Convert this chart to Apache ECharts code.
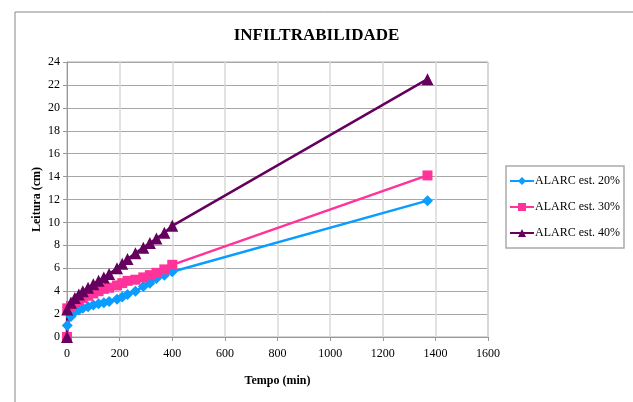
<!DOCTYPE html>
<html>
<head>
<meta charset="utf-8">
<script src="https://cdn.jsdelivr.net/npm/echarts@6/dist/echarts.min.js"></script>
<style>
  html, body { margin: 0; padding: 0; background: #fff; }
  #chart { width: 633px; height: 402px; }
</style>
</head>
<body>
<div id="chart"></div>
<script>
const tempo = [0, 1, 15, 30, 45, 60, 80, 100, 120, 140, 160, 190, 210, 230, 260, 290, 315, 340, 370, 400, 1370];

const est20 = [0, 1.0, 1.8, 2.2, 2.35, 2.5, 2.65, 2.8, 2.9, 3.0, 3.1, 3.3, 3.5, 3.7, 4.0, 4.4, 4.7, 5.1, 5.4, 5.7, 11.9];
const est30 = [0, 2.5, 2.7, 3.0, 3.2, 3.4, 3.6, 3.8, 4.0, 4.2, 4.3, 4.5, 4.7, 4.9, 5.0, 5.2, 5.4, 5.6, 5.9, 6.3, 14.1];
const est40 = [0, 2.4, 3.0, 3.4, 3.7, 4.0, 4.3, 4.6, 4.9, 5.2, 5.5, 6.0, 6.4, 6.8, 7.3, 7.8, 8.2, 8.6, 9.1, 9.7, 22.5];

const seriesNames = ['ALARC est. 20%', 'ALARC est. 30%', 'ALARC est. 40%'];

const chart = echarts.init(document.getElementById('chart'));
const serif = '"Liberation Serif", "DejaVu Serif", serif';

function pairs(vals) {
  return tempo.map((t, i) => [t, vals[i]]);
}

chart.setOption({
  animation: false,
  title: {
    text: 'INFILTRABILIDADE',
    left: 'center',
    top: 22,
    textStyle: { fontFamily: serif, fontSize: 17, fontWeight: 'bold', color: '#000' }
  },
  graphic: [{
    type: 'rect',
    shape: { x: 15, y: 12, width: 700, height: 500 },
    style: { fill: 'none', stroke: '#888', lineWidth: 1 },
    silent: true,
    z: -1
  }],
  legend: {
    orient: 'vertical',
    left: 506,
    top: 166,
    itemGap: 14,
    itemWidth: 24,
    itemHeight: 10,
    padding: [9, 4, 9, 3],
    borderColor: '#aaa',
    borderWidth: 1.5,
    textStyle: { fontFamily: serif, fontSize: 12, color: '#000', padding: [0, 0, 0, -4] },
    data: seriesNames
  },
  grid: {
    left: 67,
    right: 145,
    top: 62,
    bottom: 65,
    show: true,
    borderColor: '#aaa',
    borderWidth: 1
  },
  xAxis: {
    type: 'value',
    min: 0,
    max: 1600,
    interval: 200,
    name: 'Tempo (min)',
    nameLocation: 'middle',
    nameGap: 38,
    nameTextStyle: { fontFamily: serif, fontSize: 12, fontWeight: 'bold', color: '#000' },
    axisLine: { show: true, lineStyle: { color: '#999' } },
    axisTick: { show: true, length: 4, lineStyle: { color: '#999' } },
    axisLabel: { fontFamily: serif, fontSize: 12, color: '#000', margin: 11, formatter: v => String(v) },
    splitLine: { show: true, lineStyle: { color: '#d9d9d9', width: 1.5 } }
  },
  yAxis: {
    type: 'value',
    min: 0,
    max: 24,
    interval: 2,
    name: 'Leitura (cm)',
    nameLocation: 'middle',
    nameGap: 24,
    nameMoveOverlap: false,
    nameTextStyle: { fontFamily: serif, fontSize: 12, fontWeight: 'bold', color: '#000' },
    axisLine: { show: true, lineStyle: { color: '#999' } },
    axisTick: { show: true, length: 4, lineStyle: { color: '#999' } },
    axisLabel: { fontFamily: serif, fontSize: 12, color: '#000', margin: 7 },
    splitLine: { show: true, lineStyle: { color: '#a6a6a6' } }
  },
  series: [
    {
      name: seriesNames[0],
      type: 'line',
      data: pairs(est20),
      symbol: 'diamond',
      symbolSize: 11,
      color: '#0a9cff',
      lineStyle: { width: 2.5 }
    },
    {
      name: seriesNames[1],
      type: 'line',
      data: pairs(est30),
      symbol: 'rect',
      symbolSize: 10,
      color: '#ff3399',
      lineStyle: { width: 2.5 }
    },
    {
      name: seriesNames[2],
      type: 'line',
      data: pairs(est40),
      symbol: 'triangle',
      symbolSize: 12,
      color: '#66005e',
      lineStyle: { width: 2.5 }
    }
  ]
});
</script>
</body>
</html>
